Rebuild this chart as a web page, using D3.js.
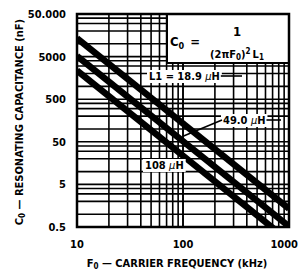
<!DOCTYPE html>
<html>
<head>
<meta charset="utf-8">
<script src="https://cdn.jsdelivr.net/npm/d3@7"></script>
<style>
  body { margin: 0; background: #fff; }
  text { font-family: "DejaVu Sans Condensed", "DejaVu Sans", sans-serif; font-weight: bold; fill: #000; }
</style>
</head>
<body>
<svg id="chart"></svg>
<script>
"use strict";

// values (kHz -> nF)
var freqs = [10, 100, 1000];
var cap189 = [13400, 134, 1.34];
var cap490 = [5170, 51.7, 0.517];
var cap1080 = [2350, 23.5, 0.235];
var seriesLabels = ["18.9", "49.0", "108"];
var xTickValues = [10, 100, 1000];
var yTickValues = [0.5, 5, 50, 500, 5000, 50000];
var yTickLabels = ["0.5", "5", "50", "500", "5000", "50.000"];

var width = 299, height = 273;
var plot = {left: 77, right: 289, top: 14, bottom: 227};

var svg = d3.select("#chart")
  .attr("width", width)
  .attr("height", height);

var x = d3.scaleLog().domain([10, 1000]).range([plot.left, plot.right]);
var y = d3.scaleLog().domain([0.5, 50000]).range([plot.bottom, plot.top]);

// grid: 1..9 per decade on x, 1..5 per decade on y
var xGrid = [];
[10, 100].forEach(function(d) {
  for (var k = 1; k <= 10; k++) xGrid.push(d * k);
});
var yGrid = [0.5];
[1, 10, 100, 1000, 10000].forEach(function(d) {
  for (var k = 1; k <= 5; k++) yGrid.push(d * k);
});

var grid = svg.append("g").attr("stroke", "#000").attr("stroke-width", 1.6);
grid.selectAll(".vx").data(xGrid).enter().append("line")
  .attr("x1", function(d) { return x(d); })
  .attr("x2", function(d) { return x(d); })
  .attr("y1", plot.top).attr("y2", plot.bottom);
grid.selectAll(".hy").data(yGrid).enter().append("line")
  .attr("y1", function(d) { return y(d); })
  .attr("y2", function(d) { return y(d); })
  .attr("x1", plot.left).attr("x2", plot.right);

svg.append("clipPath").attr("id", "clip")
  .append("rect")
  .attr("x", plot.left).attr("y", plot.top)
  .attr("width", plot.right - plot.left)
  .attr("height", plot.bottom - plot.top);

var series = [cap189, cap490, cap1080].map(function(c, i) {
  return {name: seriesLabels[i], values: freqs.map(function(f, j) { return {f: f, c: c[j]}; })};
});

var line = d3.line()
  .x(function(d) { return x(d.f); })
  .y(function(d) { return y(d.c); });

svg.append("g").attr("clip-path", "url(#clip)")
  .selectAll("path").data(series).enter().append("path")
  .attr("d", function(d) { return line(d.values); })
  .attr("fill", "none")
  .attr("stroke", "#000")
  .attr("stroke-width", 6.5);

// formula box
svg.append("rect")
  .attr("x", 167).attr("y", plot.top)
  .attr("width", plot.right - 167).attr("height", 63 - plot.top)
  .attr("fill", "#fff");
svg.append("path")
  .attr("d", "M167," + plot.top + "V63H" + plot.right)
  .attr("fill", "none").attr("stroke", "#000").attr("stroke-width", 2);

var f1 = svg.append("text").attr("x", 170).attr("y", 46).style("font-size", "13px");
f1.append("tspan").text("C");
f1.append("tspan").attr("dy", 3).style("font-size", "9px").text("0");
f1.append("tspan").attr("dy", -3).attr("dx", 6).text("=");

svg.append("text").attr("x", 237).attr("y", 36).attr("text-anchor", "middle")
  .style("font-size", "13px").text("1");

var f2 = svg.append("text").attr("x", 210).attr("y", 58).style("font-size", "11px");
f2.append("tspan").text("(2\u03c0F");
f2.append("tspan").attr("dy", 2).style("font-size", "8px").text("0");
f2.append("tspan").attr("dy", -2).text(")");
f2.append("tspan").attr("dy", -4).style("font-size", "8px").text("2");
f2.append("tspan").attr("dy", 4).attr("dx", 2).text("L");
f2.append("tspan").attr("dy", 2).style("font-size", "8px").text("1");

// series labels
function label(txt, x0, yBase) {
  var t = svg.append("text").attr("x", x0).attr("y", yBase).style("font-size", "11px");
  t.append("tspan").text(txt + " ");
  t.append("tspan").style("font-style", "italic").style("font-weight", "normal").text("\u03bc");
  t.append("tspan").text("H");
  var bb = t.node().getBBox();
  svg.insert("rect", "text")
    .attr("x", bb.x - 2).attr("y", bb.y)
    .attr("width", bb.width + 4).attr("height", bb.height)
    .attr("fill", "#fff");
  return bb;
}

var bb1 = label("L1  =  18.9", 149, 80);
svg.append("line").attr("x1", bb1.x + bb1.width + 1).attr("x2", 242)
  .attr("y1", 76).attr("y2", 76).attr("stroke", "#000").attr("stroke-width", 1.6);

var bb2 = label(seriesLabels[1], 223, 124);
svg.append("line").attr("x1", bb2.x + bb2.width + 1).attr("x2", 281)
  .attr("y1", 120).attr("y2", 120).attr("stroke", "#000").attr("stroke-width", 1.6);
svg.append("line").attr("x1", 222).attr("y1", 120)
  .attr("x2", x(freqs[1])).attr("y2", y(cap490[1]) - 5)
  .attr("stroke", "#000").attr("stroke-width", 1.6);

label(seriesLabels[2], 145, 169);

// frame
svg.append("rect")
  .attr("x", plot.left).attr("y", plot.top)
  .attr("width", plot.right - plot.left).attr("height", plot.bottom - plot.top)
  .attr("fill", "none").attr("stroke", "#000").attr("stroke-width", 2.5);

// tick labels
svg.selectAll(".yl").data(yTickValues).enter().append("text")
  .attr("x", 66).attr("y", function(d) { return y(d); })
  .attr("dy", "0.36em").attr("text-anchor", "end")
  .style("font-size", "11px")
  .text(function(d, i) { return yTickLabels[i]; });

svg.selectAll(".xl").data(xTickValues).enter().append("text")
  .attr("y", 248)
  .attr("text-anchor", "middle")
  .style("font-size", "11px")
  .text(function(d) { return d; })
  .attr("x", function(d) {
    var w = this.getComputedTextLength();
    return Math.min(x(d), width - 1 - w / 2);
  });

// axis titles
var xt = svg.append("text").attr("x", 177).attr("y", 267).attr("text-anchor", "middle")
  .style("font-size", "11px");
xt.append("tspan").text("F");
xt.append("tspan").attr("dy", 2).style("font-size", "8px").text("0");
xt.append("tspan").attr("dy", -2).text(" \u2014 CARRIER FREQUENCY (kHz)");

var yt = svg.append("text")
  .attr("transform", "translate(23,122) rotate(-90)")
  .attr("text-anchor", "middle")
  .style("font-size", "11px");
yt.append("tspan").text("C");
yt.append("tspan").attr("dy", 2).style("font-size", "8px").text("0");
yt.append("tspan").attr("dy", -2).text(" \u2014 RESONATING CAPACITANCE (nF)");
</script>
</body>
</html>
